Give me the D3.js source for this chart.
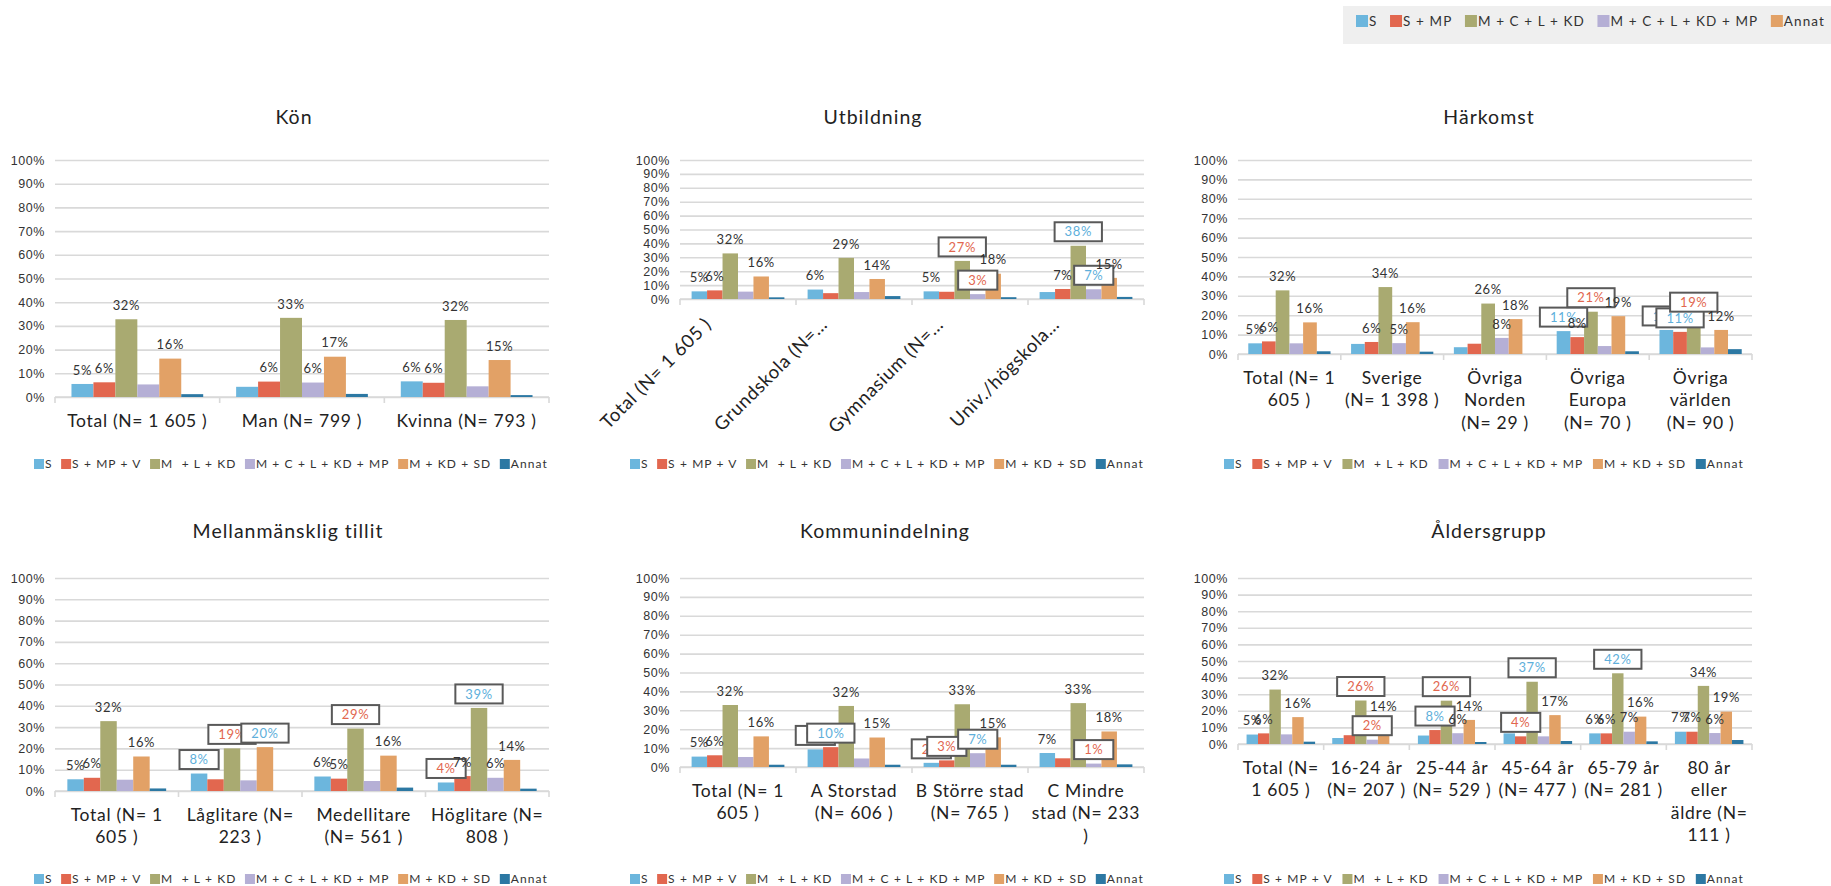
<!DOCTYPE html>
<html><head><meta charset="utf-8">
<script src="https://cdn.jsdelivr.net/npm/d3@7"></script>
<style>
body{margin:0;background:#fff;}
svg{display:block;font-family:Lato,"Open Sans","DejaVu Sans",sans-serif;}
text{white-space:pre;}
</style></head><body>
<svg id="c" width="1831" height="886"></svg>
<script>
// ---------- data ----------
const series = ["S","S + MP + V","M  + L + KD","M + C + L + KD + MP","M + KD + SD","Annat"];
const seriesColors = ["#6cb6dd","#e2674f","#a9aa71","#b5afd5","#e2a166","#2c78a3"];
const topLegend = ["S","S + MP","M + C + L + KD","M + C + L + KD + MP","Annat"];
const topLegendColors = ["#6cb6dd","#e2674f","#a9aa71","#b5afd5","#e2a166"];
const yTicks = [0,10,20,30,40,50,60,70,80,90,100];

// labels: "" = none, "b:" = blue boxed (higher), "r:" = red boxed (lower)
const konCats = ["Total (N= 1 605 )","Man (N= 799 )","Kvinna (N= 793 )"];
const konVals = [[5.5,6.2,32.8,5.3,16.2,1.2],[4.3,6.5,33.4,6.1,17.0,1.3],[6.6,6.0,32.5,4.5,15.6,0.8]];
const konLbls = [["5%","6%","32%","","16%",""],["","6%","33%","6%","17%",""],["6%","6%","32%","","15%",""]];

const utbCats = ["Total (N= 1 605 )","Grundskola (N=…","Gymnasium (N=…","Univ./högskola…"];
const utbVals = [[5.5,6.2,32.8,5.3,16.2,1.2],[6.8,4.2,29.6,5.0,14.4,2.1],[5.5,5.2,27.4,3.5,18.2,1.3],[5.0,7.2,38.3,7.0,15.2,1.5]];
const utbLbls = [["5%","6%","32%","","16%",""],["6%","","29%","","14%",""],["5%","","r:27%","r:3%","18%",""],["","7%","b:38%","b:7%","15%",""]];

const harCats = ["Total (N= 1\n605 )","Sverige\n(N= 1 398 )","Övriga\nNorden\n(N= 29 )","Övriga\nEuropa\n(N= 70 )","Övriga\nvärlden\n(N= 90 )"];
const harVals = [[5.5,6.5,32.8,5.5,16.3,1.4],[5.2,6.2,34.5,5.6,16.4,1.2],[3.5,5.3,26.0,8.3,18.0,0],[11.8,8.7,21.8,4.1,19.5,1.4],[12.4,11.4,19.5,3.4,12.4,2.5]];
const harLbls = [["5%","6%","32%","","16%",""],["","6%","34%","5%","16%",""],["","","26%","8%","18%",""],["b:11%","8%","r:21%","","19%",""],["b:12%","b:11%","r:19%","","12%",""]];

const tilCats = ["Total (N= 1\n605 )","Låglitare (N=\n223 )","Medellitare\n(N= 561 )","Höglitare (N=\n808 )"];
const tilVals = [[5.5,6.2,32.8,5.3,16.2,1.2],[8.2,5.5,20.0,5.0,20.6,0],[6.8,5.8,29.3,4.7,16.6,1.6],[4.0,7.0,39.0,6.2,14.6,1.1]];
const tilLbls = [["5%","6%","32%","","16%",""],["b:8%","","r:19%","","b:20%",""],["6%","5%","r:29%","","16%",""],["r:4%","7%","b:39%","6%","14%",""]];

const komCats = ["Total (N= 1\n605 )","A Storstad\n(N= 606 )","B Större stad\n(N= 765 )","C Mindre\nstad (N= 233\n)"];
const komVals = [[5.5,6.2,32.8,5.3,16.2,1.2],[9.3,10.5,32.3,4.5,15.6,1.2],[2.2,3.5,33.2,7.3,15.7,1.2],[7.4,4.6,33.8,1.8,18.8,1.4]];
const komLbls = [["5%","6%","32%","","16%",""],["b:9%","b:10%","32%","","15%",""],["r:2%","r:3%","33%","b:7%","15%",""],["7%","","33%","r:1%","18%",""]];

const aldCats = ["Total (N=\n1 605 )","16-24 år\n(N= 207 )","25-44 år\n(N= 529 )","45-64 år\n(N= 477 )","65-79 år\n(N= 281 )","80 år\neller\näldre (N=\n111 )"];
const aldVals = [[5.7,6.4,32.8,5.8,16.2,1.4],[3.6,5.3,26.2,2.6,14.0,0],[5.1,8.4,26.1,6.5,14.5,1.2],[6.4,4.6,37.5,4.6,17.4,1.8],[6.4,6.4,42.6,7.4,16.5,1.6],[7.4,7.4,35.0,6.6,19.5,2.4]];
const aldLbls = [["5%","6%","32%","","16%",""],["","","r:26%","r:2%","14%",""],["","b:8%","r:26%","6%","14%",""],["6%","r:4%","b:37%","","17%",""],["6%","6%","b:42%","7%","16%",""],["7%","7%","34%","6%","19%",""]];

// ---------- layout ----------
const panels = [
  {title:"Kön", cats:konCats, vals:konVals, lbls:konLbls, x0:55, x1:549, y0:160, y1:397, tx:294, ty:117, lx0:34, lx1:548, ly:464},
  {title:"Utbildning", cats:utbCats, vals:utbVals, lbls:utbLbls, x0:680, x1:1144, y0:160, y1:299, tx:873, ty:117, lx0:630, lx1:1144, ly:464, rotate:true},
  {title:"Härkomst", cats:harCats, vals:harVals, lbls:harLbls, x0:1238, x1:1752, y0:160, y1:354, tx:1489, ty:117, lx0:1224, lx1:1744, ly:464},
  {title:"Mellanmänsklig tillit", cats:tilCats, vals:tilVals, lbls:tilLbls, x0:55, x1:549, y0:578, y1:791, tx:288, ty:531, lx0:34, lx1:548, ly:879},
  {title:"Kommunindelning", cats:komCats, vals:komVals, lbls:komLbls, x0:680, x1:1144, y0:578, y1:767, tx:885, ty:531, lx0:630, lx1:1144, ly:879},
  {title:"Åldersgrupp", cats:aldCats, vals:aldVals, lbls:aldLbls, x0:1238, x1:1752, y0:578, y1:744, tx:1489, ty:531, lx0:1224, lx1:1744, ly:879}
];

const svg = d3.select("#c");
const GRID = "#d9d9d9";
const BLUE_T = "#5eafdb", RED_T = "#e2674f";

function legend(g, items, cols, xA, xB, y, sw, fs, ls){
  const nodes = items.map((t,i)=>{
    const gi = g.append("g");
    gi.append("rect").attr("width",sw).attr("height",sw).attr("y",-sw/2).attr("fill",cols[i]);
    const tx = gi.append("text").attr("x",sw+1).attr("dy","0.35em").attr("font-size",fs)
      .attr("letter-spacing",ls).attr("fill","#333").text(t);
    return {gi, w: sw+1+tx.node().getBBox().width};
  });
  const gap = Math.max(6,(xB-xA-d3.sum(nodes,d=>d.w))/(items.length-1));
  let cx = xA;
  nodes.forEach(n=>{ n.gi.attr("transform",`translate(${cx},${y})`); cx += n.w+gap; });
}

function drawPanel(p){
  const g = svg.append("g");
  const W = p.x1-p.x0;
  const x = d3.scaleBand().domain(p.cats).range([p.x0,p.x1]).paddingInner(0.2).paddingOuter(0.1);
  const xs = d3.scaleBand().domain(d3.range(series.length)).range([0,x.bandwidth()]);
  const y = d3.scaleLinear().domain([0,100]).range([p.y1,p.y0]);

  // title
  g.append("text").attr("x",p.tx).attr("y",p.ty).attr("dy","0.35em").attr("text-anchor","middle")
    .attr("font-size",19.5).attr("letter-spacing",1).attr("fill","#222").text(p.title);

  // y axis + gridlines
  const ya = g.append("g").attr("transform",`translate(${p.x0},0)`)
    .call(d3.axisLeft(y).tickValues(yTicks).tickFormat(d=>d+"%").tickSize(-W).tickPadding(10));
  ya.select(".domain").remove();
  ya.selectAll(".tick line").attr("stroke",GRID).attr("stroke-width",1.6);
  ya.selectAll(".tick text").attr("font-size",12.5).attr("letter-spacing",0.6).attr("fill","#333")
    .attr("font-family",null);

  // x baseline with boundary ticks
  g.append("line").attr("x1",p.x0).attr("x2",p.x1).attr("y1",p.y1).attr("y2",p.y1)
    .attr("stroke",GRID).attr("stroke-width",1.6);
  const bounds = d3.range(p.cats.length+1).map(i=>p.x0+i*x.step());
  g.selectAll(".bt").data(bounds).join("line").attr("x1",d=>d).attr("x2",d=>d)
    .attr("y1",p.y1).attr("y2",p.y1+6).attr("stroke",GRID).attr("stroke-width",1.6);

  // bars
  const flat = [];
  p.vals.forEach((row,ci)=>row.forEach((v,si)=>flat.push({c:p.cats[ci],ci,si,v,l:p.lbls[ci][si]})));
  g.selectAll(".bar").data(flat).join("rect")
    .attr("x",d=>x(d.c)+xs(d.si)).attr("width",xs.bandwidth())
    .attr("y",d=>y(d.v)).attr("height",d=>y(0)-y(d.v)).attr("fill",d=>seriesColors[d.si]);

  // data labels (series order, boxes over previous)
  flat.filter(d=>d.l).forEach(d=>{
    const boxed = d.l.startsWith("b:")||d.l.startsWith("r:");
    const txt = boxed ? d.l.slice(2) : d.l;
    const cx = x(d.c)+xs(d.si)+xs.bandwidth()/2;
    const cy = y(d.v)-14;
    const lg = g.append("g");
    if(boxed){
      const r = lg.append("rect").attr("fill","#fff").attr("stroke","#595959").attr("stroke-width",2);
      const t = lg.append("text").attr("x",cx).attr("y",cy).attr("dy","0.36em").attr("text-anchor","middle")
        .attr("font-size",13).attr("letter-spacing",0.6).attr("fill",d.l[0]==="b"?BLUE_T:RED_T).text(txt);
      const bw = t.node().getBBox().width+20;
      r.attr("x",cx-bw/2).attr("y",cy-9.5).attr("width",bw).attr("height",19);
    } else {
      lg.append("text").attr("x",cx).attr("y",cy).attr("dy","0.36em").attr("text-anchor","middle")
        .attr("font-size",13).attr("letter-spacing",0.6).attr("fill","#333").text(txt);
    }
  });

  // category labels
  p.cats.forEach(c=>{
    const cx = x(c)+x.bandwidth()/2;
    if(p.rotate){
      g.append("text").attr("text-anchor","end").attr("dy","0.35em")
        .attr("transform",`translate(${cx-30},${p.y1+22}) rotate(-45)`)
        .attr("font-size",18.5).attr("letter-spacing",0.7).attr("fill","#222").text(c);
    } else {
      const t = g.append("text").attr("text-anchor","middle").attr("font-size",17.5)
        .attr("letter-spacing",0.7).attr("fill","#222");
      c.split("\n").forEach((ln,i)=>{
        t.append("tspan").attr("x",cx).attr("y",p.y1+30+i*22.3).text(ln);
      });
    }
  });

  legend(g.append("g"), series, seriesColors, p.lx0, p.lx1, p.ly, 10, 12, 1.1);
}

panels.forEach(drawPanel);

// top legend
svg.append("rect").attr("x",1343).attr("y",6).attr("width",488).attr("height",38).attr("fill","#efefef");
legend(svg.append("g"), topLegend, topLegendColors, 1356, 1825, 21, 12, 13.5, 1.1);
</script>
</body></html>
